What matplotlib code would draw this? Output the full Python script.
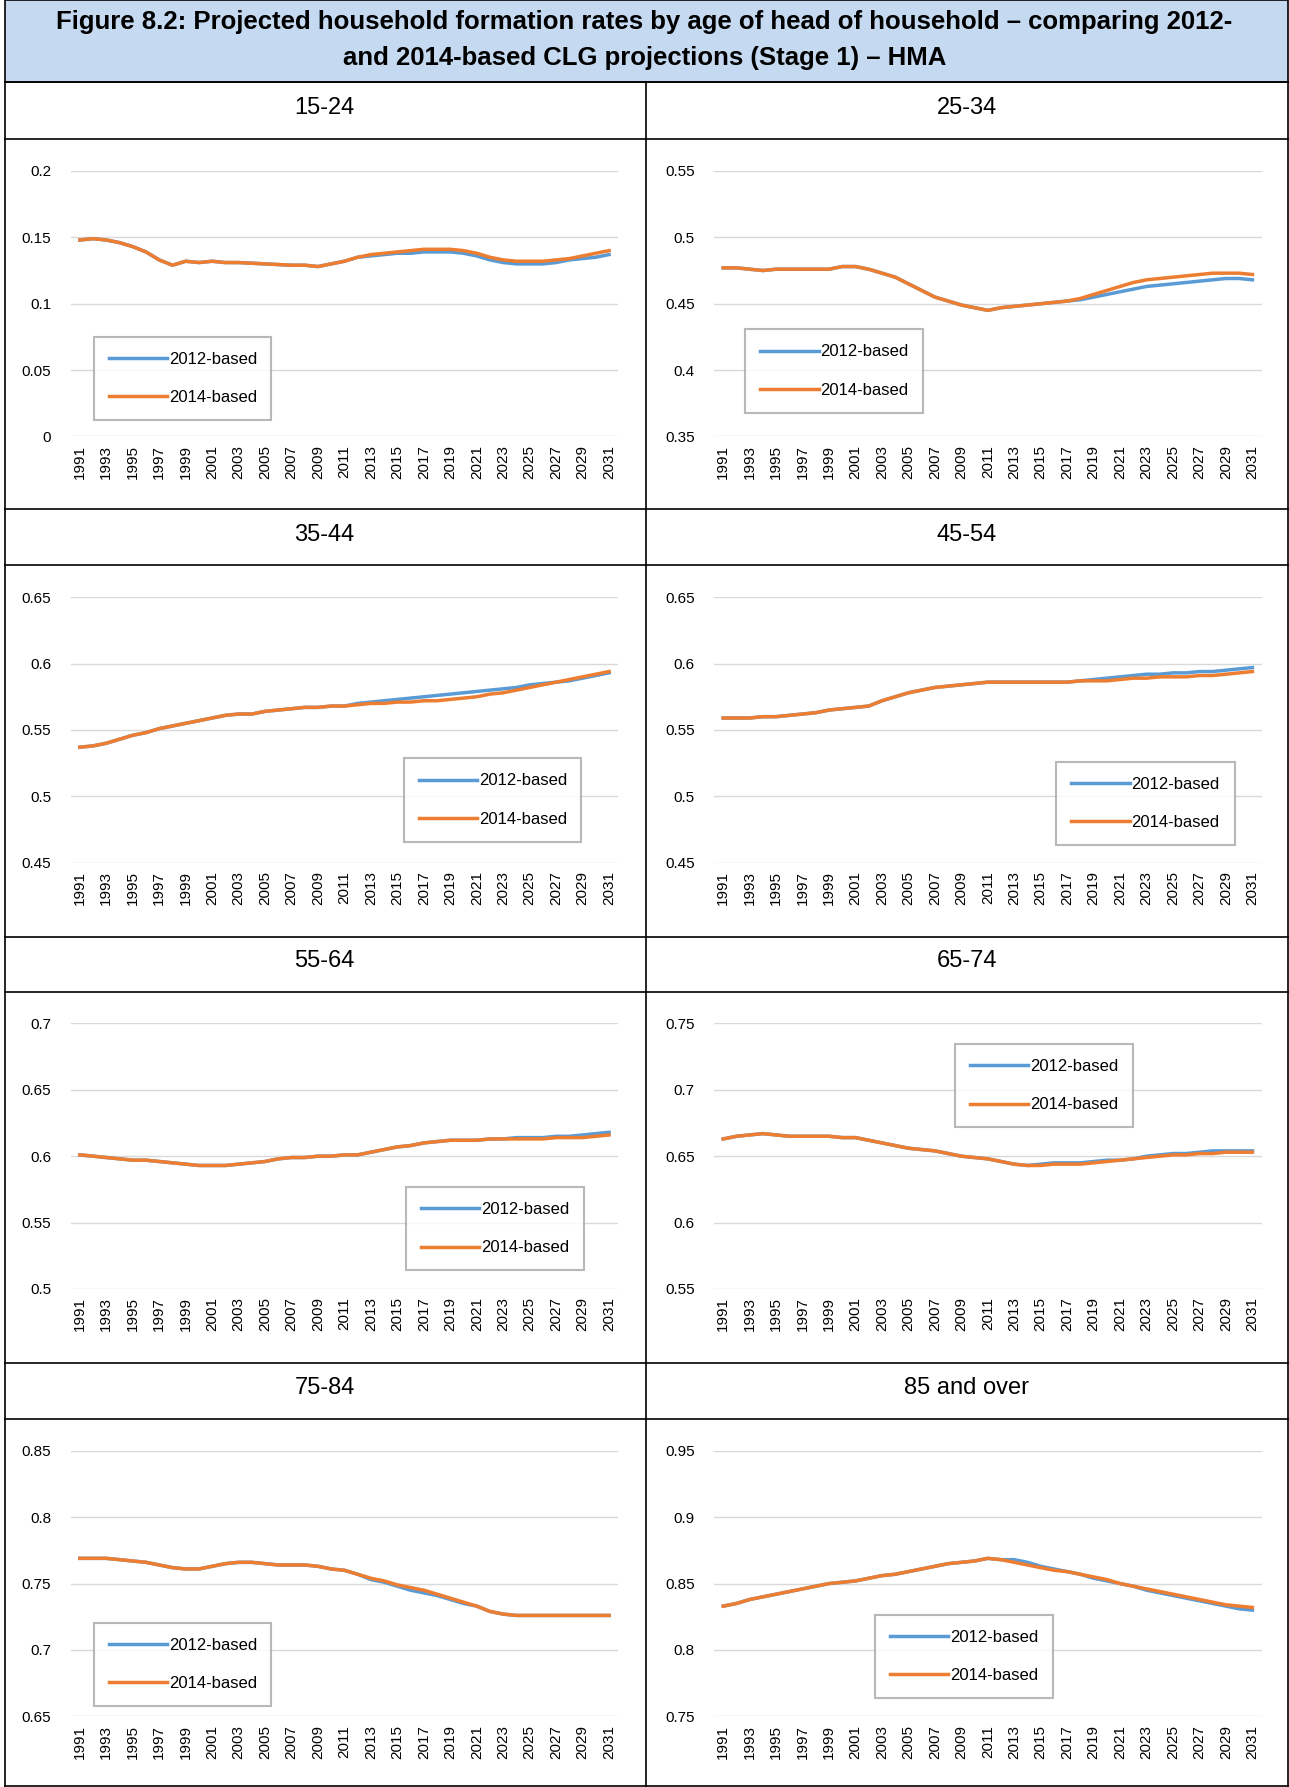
import numpy as np
import matplotlib.pyplot as plt
from matplotlib.lines import Line2D
from matplotlib.patches import Rectangle

plt.rcParams['font.family'] = ['Liberation Sans', 'DejaVu Sans']

years = list(range(1991, 2032))

titles = ["15-24", "25-34", "35-44", "45-54", "55-64", "65-74", "75-84", "85 and over"]

r1524_14 = [.148, .149, .148, .146, .143, .139, .133, .129, .132, .131, .132, .131, .131, .1305, .130, .1295, .129, .129, .128, .130,
            .132, .135, .137, .138, .139, .140, .141, .141, .141, .140, .138, .135, .133, .132, .132, .132, .133, .134, .136, .138, .140]
r1524_12 = [.148, .149, .148, .146, .143, .139, .133, .129, .132, .131, .132, .131, .131, .1305, .130, .1295, .129, .129, .128, .130,
            .132, .135, .136, .137, .138, .138, .139, .139, .139, .138, .136, .133, .131, .130, .130, .130, .131, .133, .134, .135, .137]
r2534_14 = [.477, .477, .476, .475, .476, .476, .476, .476, .476, .478, .478, .476, .473, .470, .465, .460, .455, .452, .449, .447,
            .445, .447, .448, .449, .450, .451, .452, .454, .457, .460, .463, .466, .468, .469, .470, .471, .472, .473, .473, .473, .472]
r2534_12 = [.477, .477, .476, .475, .476, .476, .476, .476, .476, .478, .478, .476, .473, .470, .465, .460, .455, .452, .449, .447,
            .445, .447, .448, .449, .450, .451, .452, .453, .455, .457, .459, .461, .463, .464, .465, .466, .467, .468, .469, .469, .468]
r3544_14 = [.537, .538, .540, .543, .546, .548, .551, .553, .555, .557, .559, .561, .562, .562, .564, .565, .566, .567, .567, .568,
            .568, .569, .570, .570, .571, .571, .572, .572, .573, .574, .575, .577, .578, .580, .582, .584, .586, .588, .590, .592, .594]
r3544_12 = [.537, .538, .540, .543, .546, .548, .551, .553, .555, .557, .559, .561, .562, .562, .564, .565, .566, .567, .567, .568,
            .568, .570, .571, .572, .573, .574, .575, .576, .577, .578, .579, .580, .581, .582, .584, .585, .586, .587, .589, .591, .593]
r4554_14 = [.559, .559, .559, .560, .560, .561, .562, .563, .565, .566, .567, .568, .572, .575, .578, .580, .582, .583, .584, .585,
            .586, .586, .586, .586, .586, .586, .586, .587, .587, .587, .588, .589, .589, .590, .590, .590, .591, .591, .592, .593, .594]
r4554_12 = [.559, .559, .559, .560, .560, .561, .562, .563, .565, .566, .567, .568, .572, .575, .578, .580, .582, .583, .584, .585,
            .586, .586, .586, .586, .586, .586, .586, .587, .588, .589, .590, .591, .592, .592, .593, .593, .594, .594, .595, .596, .597]
r5564_14 = [.601, .600, .599, .598, .597, .597, .596, .595, .594, .593, .593, .593, .594, .595, .596, .598, .599, .599, .600, .600,
            .601, .601, .603, .605, .607, .608, .610, .611, .612, .612, .612, .613, .613, .613, .613, .613, .614, .614, .614, .615, .616]
r5564_12 = [.601, .600, .599, .598, .597, .597, .596, .595, .594, .593, .593, .593, .594, .595, .596, .598, .599, .599, .600, .600,
            .601, .601, .603, .605, .607, .608, .610, .611, .612, .612, .612, .613, .613, .614, .614, .614, .615, .615, .616, .617, .618]
r6574_14 = [.663, .665, .666, .667, .666, .665, .665, .665, .665, .664, .664, .662, .660, .658, .656, .655, .654, .652, .650, .649,
            .648, .646, .644, .643, .643, .644, .644, .644, .645, .646, .647, .648, .649, .650, .651, .651, .652, .652, .653, .653, .653]
r6574_12 = [.663, .665, .666, .667, .666, .665, .665, .665, .665, .664, .664, .662, .660, .658, .656, .655, .654, .652, .650, .649,
            .648, .646, .644, .643, .644, .645, .645, .645, .646, .647, .647, .648, .650, .651, .652, .652, .653, .654, .654, .654, .654]
r7584_14 = [.769, .769, .769, .768, .767, .766, .764, .762, .761, .761, .763, .765, .766, .766, .765, .764, .764, .764, .763, .761,
            .760, .757, .754, .752, .749, .747, .745, .742, .739, .736, .733, .729, .727, .726, .726, .726, .726, .726, .726, .726, .726]
r7584_12 = [.769, .769, .769, .768, .767, .766, .764, .762, .761, .761, .763, .765, .766, .766, .765, .764, .764, .764, .763, .761,
            .760, .757, .753, .751, .748, .745, .743, .741, .738, .735, .733, .729, .727, .726, .726, .726, .726, .726, .726, .726, .726]
r85_14 = [.833, .835, .838, .840, .842, .844, .846, .848, .850, .851, .852, .854, .856, .857, .859, .861, .863, .865, .866, .867,
          .869, .868, .866, .864, .862, .860, .859, .857, .855, .853, .850, .848, .846, .844, .842, .840, .838, .836, .834, .833, .832]
r85_12 = [.833, .835, .838, .840, .842, .844, .846, .848, .850, .851, .852, .854, .856, .857, .859, .861, .863, .865, .866, .867,
          .869, .868, .868, .866, .863, .861, .859, .857, .854, .852, .850, .848, .845, .843, .841, .839, .837, .835, .833, .831, .830]

series_12 = [r1524_12, r2534_12, r3544_12, r4554_12, r5564_12, r6574_12, r7584_12, r85_12]
series_14 = [r1524_14, r2534_14, r3544_14, r4554_14, r5564_14, r6574_14, r7584_14, r85_14]
ylims = [(0, 0.2), (0.35, 0.55), (0.45, 0.65), (0.45, 0.65), (0.5, 0.7), (0.55, 0.75), (0.65, 0.85), (0.75, 0.95)]
legend_boxes = [(0.027, 0.06, 0.355, 0.318), (0.042, 0.09, 0.354, 0.313),
                (0.593, 0.077, 0.355, 0.318), (0.61, 0.064, 0.356, 0.318),
                (0.597, 0.068, 0.355, 0.318), (0.425, 0.607, 0.356, 0.316),
                (0.027, 0.038, 0.355, 0.316), (0.279, 0.068, 0.356, 0.316)]

W, H = 1132.0, 1568.0


def fx(x):
    return x / W


def fy(y):
    return 1 - y / H


fig = plt.figure(figsize=(12.89, 17.87), dpi=100)

# title band
fig.add_artist(Rectangle((fx(4), fy(72)), fx(1127), 72 / H, transform=fig.transFigure,
                         facecolor="#C5D9F1", edgecolor="black", lw=1.2))
fig.text(0.5, fy(19), "Figure 8.2: Projected household formation rates by age of head of household \u2013 comparing 2012-",
         ha="center", va="center", fontsize=18.5, fontweight="bold")
fig.text(0.5, fy(51), "and 2014-based CLG projections (Stage 1) \u2013 HMA",
         ha="center", va="center", fontsize=18.5, fontweight="bold")

# table lines
for y in [72, 122, 447, 496, 822, 870, 1196, 1245, 1567]:
    fig.add_artist(Line2D([fx(4), fx(1131)], [fy(y), fy(y)], color="black", lw=1.2))
for x in [4, 567, 1131]:
    fig.add_artist(Line2D([fx(x), fx(x)], [fy(72), fy(1567)], color="black", lw=1.2))

header_y = [95, 469, 843, 1218]
ax_top = [150, 524, 898, 1273]
col_left = [62, 627]
col_center = [285, 849]

for i in range(8):
    row, col = divmod(i, 2)
    fig.text(fx(col_center[col]), fy(header_y[row]), titles[i], ha="center", va="center", fontsize=17)
    ax = fig.add_axes([fx(col_left[col]), fy(ax_top[row] + 233), 481 / W, 233 / H])
    ax.plot(years, series_12[i], color="#5B9BD5", lw=2.5, label="2012-based")
    ax.plot(years, series_14[i], color="#ED7D31", lw=2.5, label="2014-based")
    lo, hi = ylims[i]
    ax.set_ylim(lo, hi)
    ticks = np.linspace(lo, hi, 5)
    ax.set_yticks(ticks)
    ax.set_yticklabels(["%g" % round(t, 2) for t in ticks])
    ax.set_xlim(1990.3, 2031.7)
    ax.set_xticks(years[::2])
    ax.set_xticklabels([str(y) for y in years[::2]], rotation=90)
    ax.grid(axis="y", color="#D9D9D9", lw=1)
    ax.set_axisbelow(True)
    for s in ax.spines.values():
        s.set_visible(False)
    ax.tick_params(length=0, labelsize=11, pad=6)
    ax.tick_params(axis="y", pad=14)
    leg = ax.legend(loc="center", bbox_to_anchor=legend_boxes[i], mode="expand", fontsize=12,
                    frameon=True, fancybox=False, edgecolor="#A6A6A6", handlelength=3.5,
                    handletextpad=0.1, labelspacing=1.4, borderpad=0.9)
    leg.get_frame().set_linewidth(1.5)

fig.savefig("out.png", dpi=100)
